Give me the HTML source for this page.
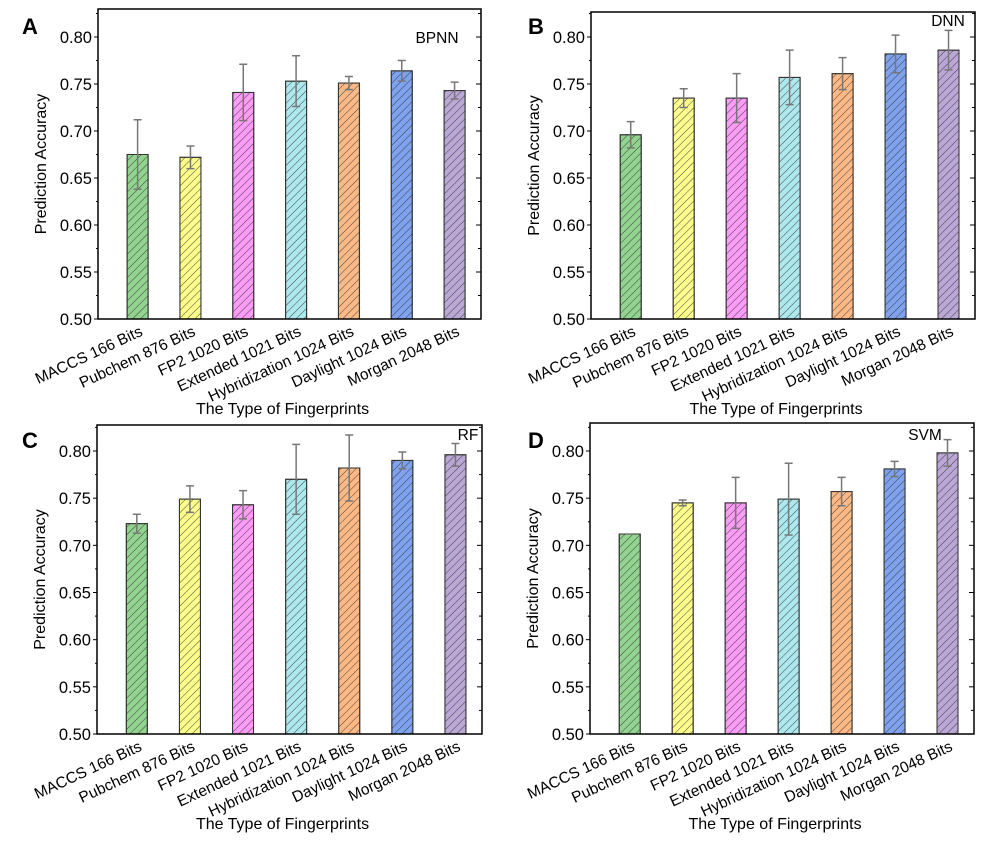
<!DOCTYPE html>
<html><head><meta charset="utf-8"><style>
body{margin:0;background:#fff;}
svg{display:block;font-family:"Liberation Sans",Arial,sans-serif;}
</style></head><body>
<svg id="fig" width="985" height="845">
<defs>
<pattern id="hatch" patternUnits="userSpaceOnUse" width="5.5" height="5.5" patternTransform="rotate(45)">
<line x1="0" y1="0" x2="0" y2="5.5" stroke="#333" stroke-width="0.9"/>
</pattern>
</defs>
</svg>
<script>
const categories=["MACCS 166 Bits","Pubchem 876 Bits","FP2 1020 Bits","Extended 1021 Bits","Hybridization 1024 Bits","Daylight 1024 Bits","Morgan 2048 Bits"];
const colors=["#92d48f","#fdfd8c","#fb9cf6","#ade8ee","#fcb986","#7ea2ee","#bba7d6"];
const yTicks=[0.50,0.55,0.60,0.65,0.70,0.75,0.80];
const bpnnValues=[0.675,0.672,0.741,0.753,0.751,0.764,0.743];
const bpnnErrors=[0.037,0.012,0.030,0.027,0.007,0.011,0.009];
const dnnValues=[0.696,0.735,0.735,0.757,0.761,0.782,0.786];
const dnnErrors=[0.014,0.010,0.026,0.029,0.017,0.020,0.021];
const rfValues=[0.723,0.749,0.743,0.770,0.782,0.790,0.796];
const rfErrors=[0.010,0.014,0.015,0.037,0.035,0.009,0.012];
const svmValues=[0.712,0.745,0.745,0.749,0.757,0.781,0.798];
const svmErrors=[0.000,0.003,0.027,0.038,0.015,0.008,0.014];
const panels=[
 {letter:"A",model:"BPNN",vals:bpnnValues,errs:bpnnErrors,x0:98,x1:481,top:9,y50:319,y80:37,lx:22,ly:34,mx:437,my:43},
 {letter:"B",model:"DNN",vals:dnnValues,errs:dnnErrors,x0:591,x1:975,top:12,y50:319,y80:37,lx:528,ly:34,mx:948,my:26},
 {letter:"C",model:"RF",vals:rfValues,errs:rfErrors,x0:97,x1:482,top:425,y50:734,y80:451,lx:22,ly:448,mx:468,my:440},
 {letter:"D",model:"SVM",vals:svmValues,errs:svmErrors,x0:590,x1:974,top:423,y50:734,y80:451,lx:528,ly:448,mx:925,my:440}
];
const svg=document.getElementById('fig');
const NS="http://www.w3.org/2000/svg";
function mk(t,a,p){const e=document.createElementNS(NS,t);for(const k in a)e.setAttribute(k,a[k]);(p||svg).appendChild(e);return e;}
panels.forEach((p,pi)=>{
 const g=mk('g',{});
 
 
 const ys=v=>p.y50+(v-0.5)/0.3*(p.y80-p.y50);
 const step=(p.x1-p.x0)/7.25;
 const xs=i=>p.x0+step*(0.75+i);
 const bw=21;
 p.vals.forEach((v,i)=>{
  const y=ys(v),h=p.y50-y;
  const r=mk('rect',{x:xs(i)-bw/2,y:y,width:bw,height:h,fill:colors[i],stroke:'#333','stroke-width':1},g);
  
  
  const hr=mk('rect',{x:xs(i)-bw/2,y:y,width:bw,height:h,fill:'url(#hatch)',stroke:'#333','stroke-width':1},g);
  
  
  const e=p.errs[i],yt=ys(v+e),yb=ys(v-e);
  const eb=mk('path',{d:`M${xs(i)},${yt}V${yb}M${xs(i)-4},${yt}H${xs(i)+4}M${xs(i)-4},${yb}H${xs(i)+4}`,stroke:'#777','stroke-width':1.5,fill:'none'},g);
  
  
  const tx=xs(i)+6,ty=p.y50+16;
  const t=mk('text',{x:tx,y:ty,'font-size':15.5,'text-anchor':'end',transform:`rotate(-25 ${tx} ${ty})`},g);
  t.textContent=categories[i];
  
  
 });
 const fr=mk('rect',{x:p.x0,y:p.top,width:p.x1-p.x0,height:p.y50-p.top,fill:'none',stroke:'#000','stroke-width':1.5},g);
 
 
 yTicks.forEach((v,k)=>{
  const y=ys(v);
  mk('line',{x1:p.x0-4,x2:p.x0,y1:y,y2:y,stroke:'#000'},g);
  mk('line',{x1:p.x1-5,x2:p.x1,y1:y,y2:y,stroke:'#000'},g);
  const ym=ys(v+0.025);
  if(ym>p.top){mk('line',{x1:p.x0-2,x2:p.x0,y1:ym,y2:ym,stroke:'#000'},g);mk('line',{x1:p.x1-3,x2:p.x1,y1:ym,y2:ym,stroke:'#000'},g);}
  const t=mk('text',{x:p.x0-6,y:y+6,'font-size':16.5,'text-anchor':'end'},g);
  t.textContent=v.toFixed(2);
  
  
 });
 const cy=(p.top+p.y50)/2;
 const yt=mk('text',{x:p.x0-52,y:cy,'font-size':16,'text-anchor':'middle',transform:`rotate(-90 ${p.x0-52} ${cy})`},g);
 yt.textContent='Prediction Accuracy';
 
 
 const xt=mk('text',{x:(p.x0+p.x1)/2-7,y:p.y50+95,'font-size':16,'text-anchor':'middle'},g);
 xt.textContent='The Type of Fingerprints';
 
 
 const lt=mk('text',{x:p.lx,y:p.ly,'font-size':22,'font-weight':'bold'},g);
 lt.textContent=p.letter;
 
 
 const mt=mk('text',{x:p.mx,y:p.my,'font-size':15.5,'text-anchor':'middle'},g);
 mt.textContent=p.model;
 
 
});
</script>
</body></html>
